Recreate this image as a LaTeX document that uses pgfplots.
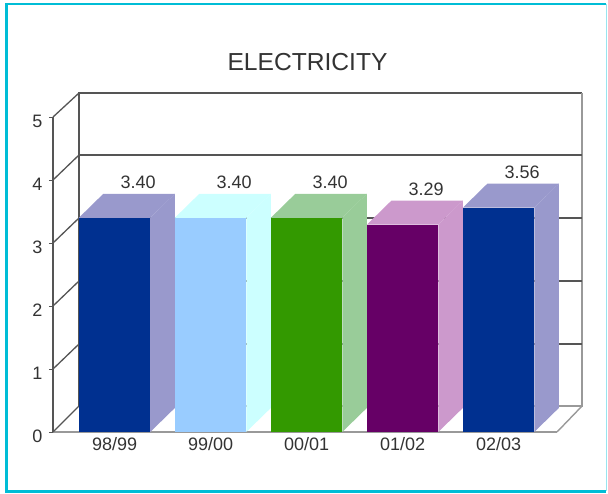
\documentclass[border=0pt]{standalone}
\usepackage{fontspec}
\setmainfont{Liberation Sans}
\usepackage{pgfplots}
\pgfplotsset{compat=1.18}
\definecolor{txt}{HTML}{333333}
\definecolor{wall}{HTML}{555555}
\definecolor{floorl}{HTML}{999999}
\definecolor{frame}{HTML}{00BDD6}
\definecolor{navy}{HTML}{003090}
\definecolor{navyl}{HTML}{9999CC}
\definecolor{sky}{HTML}{99CCFF}
\definecolor{skyl}{HTML}{CCFFFF}
\definecolor{grn}{HTML}{339900}
\definecolor{grnl}{HTML}{99CC99}
\definecolor{plum}{HTML}{660066}
\definecolor{pluml}{HTML}{CC99CC}
\pgfplotsset{
    face/.style={draw=none, no markers, forget plot},
    front/.style={ybar, bar width=71.5pt, bar shift=0pt, draw=none, fill=#1,
        nodes near coords,
        nodes near coords style={font=\fontsize{18}{18}\selectfont, text=txt,
            xshift=23.5pt, yshift=26pt,
            /pgf/number format/fixed, /pgf/number format/fixed zerofill,
            /pgf/number format/precision=2}},
    wl/.style={wall, line width=1.3pt, no markers, forget plot},
    fl/.style={floorl, line width=1.4pt, no markers, forget plot},
}
\begin{document}
\begin{tikzpicture}
\begin{axis}[
    width=504pt, height=315pt, scale only axis,
    clip=false,
    xmin=-0.641, xmax=4.609,
    ymin=0, ymax=5,
    axis x line*=bottom, axis y line*=left,
    x axis line style={floorl, line width=1.8pt},
    y axis line style={wall, line width=1.3pt},
    xtick={0,1,2,3,4},
    xticklabels={98/99,99/00,00/01,01/02,02/03},
    ytick={0,1,2,3,4,5},
    tick align=outside,
    major tick length=4pt,
    x tick style={draw=none},
    y tick style={wall, line width=1pt},
    /pgf/number format/assume math mode=true,
    tick label style={font=\fontsize{18}{18}\selectfont, text=txt},
    yticklabel style={yshift=-4pt, xshift=-3pt},
    xticklabel style={yshift=2pt},
    title={ELECTRICITY},
    title style={at={(0.505,1.157)}, anchor=center, font=\fontsize{24.6}{25}\selectfont, text=txt},
]
% back wall
\addplot[wl] coordinates {(-0.370,0.413) (-0.370,5.381) (4.870,5.381)};
\addplot[fl] coordinates {(4.870,5.381) (4.870,0.413) (-0.370,0.413)};
\addplot[wl] coordinates {(-0.370,1.397) (4.870,1.397)};
\addplot[wl] coordinates {(-0.370,2.397) (4.870,2.397)};
\addplot[wl] coordinates {(-0.370,3.397) (4.870,3.397)};
\addplot[wl] coordinates {(-0.370,4.397) (4.870,4.397)};
% side wall
\addplot[wl] coordinates {(-0.641,0) (-0.370,0.413)};
\addplot[wl] coordinates {(-0.641,1) (-0.370,1.397)};
\addplot[wl] coordinates {(-0.641,2) (-0.370,2.397)};
\addplot[wl] coordinates {(-0.641,3) (-0.370,3.397)};
\addplot[wl] coordinates {(-0.641,4) (-0.370,4.397)};
\addplot[wl] coordinates {(-0.641,5) (-0.370,5.381)};
% floor, right edge
\addplot[fl] coordinates {(4.609,0) (4.870,0.413)};

% 98/99
\addplot[face, fill=navyl] coordinates {(0.372,0) (0.628,0.381) (0.628,3.781) (0.372,3.40)};
\addplot[face, fill=navyl] coordinates {(-0.372,3.40) (-0.117,3.781) (0.628,3.781) (0.372,3.40)};
\addplot[front=navy] coordinates {(0,3.40)};
% 99/00
\addplot[face, fill=skyl] coordinates {(1.372,0) (1.628,0.381) (1.628,3.781) (1.372,3.40)};
\addplot[face, fill=skyl] coordinates {(0.628,3.40) (0.883,3.781) (1.628,3.781) (1.372,3.40)};
\addplot[front=sky] coordinates {(1,3.40)};
% 00/01
\addplot[face, fill=grnl] coordinates {(2.372,0) (2.628,0.381) (2.628,3.781) (2.372,3.40)};
\addplot[face, fill=grnl] coordinates {(1.628,3.40) (1.883,3.781) (2.628,3.781) (2.372,3.40)};
\addplot[front=grn] coordinates {(2,3.40)};
% 01/02
\addplot[face, fill=pluml] coordinates {(3.372,0) (3.628,0.381) (3.628,3.671) (3.372,3.29)};
\addplot[face, fill=pluml] coordinates {(2.628,3.29) (2.883,3.671) (3.628,3.671) (3.372,3.29)};
\addplot[front=plum] coordinates {(3,3.29)};
% 02/03
\addplot[face, fill=navyl] coordinates {(4.372,0) (4.628,0.381) (4.628,3.941) (4.372,3.56)};
\addplot[face, fill=navyl] coordinates {(3.628,3.56) (3.883,3.941) (4.628,3.941) (4.372,3.56)};
\addplot[front=navy] coordinates {(4,3.56)};
\end{axis}
% page box and cyan frame
\path (-53pt,-61pt) rectangle (555pt,432pt);
\draw[frame, line width=2.6pt] (-46.5pt,428.3pt) -- (-46.5pt,-59.3pt);
\draw[frame, line width=2pt] (-47.8pt,428.3pt) -- (552.8pt,428.3pt);
\draw[frame, line width=2.6pt] (-47.8pt,-59.3pt) -- (553pt,-59.3pt);
\draw[frame!40, line width=1pt] (553pt,428.3pt) -- (553pt,-59.3pt);
\end{tikzpicture}
\end{document}
